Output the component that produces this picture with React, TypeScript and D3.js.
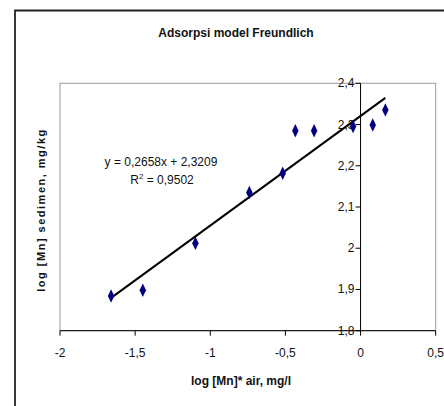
import React from "react";
import * as d3 from "d3";

const xValues = [-1.66, -1.449, -1.099, -0.74, -0.518, -0.434, -0.309, -0.05, 0.081, 0.165];
const yValues = [1.884, 1.898, 2.012, 2.135, 2.182, 2.285, 2.285, 2.295, 2.299, 2.335];
const xTicks = [-2, -1.5, -1, -0.5, 0, 0.5];
const yTicks = [1.8, 1.9, 2.0, 2.1, 2.2, 2.3, 2.4];
const slope = 0.2658;
const intercept = 2.3209;
const title = "Adsorpsi model Freundlich";
const xTitle = "log [Mn]* air, mg/l";
const yTitle = "log [Mn] sedimen, mg/kg";
const eqText = "y = 0,2658x + 2,3209";

const fmt = (v: number) => {
  const s = d3.format("~g")(Math.round(v * 10) / 10);
  return s.replace(".", ",").replace("−", "-");
};

export default function App() {
  const W = 444, H = 406;
  const L = 60, R = 435.7, T = 83.3, B = 330.7;
  const x = d3.scaleLinear().domain([-2, 0.5]).range([L, R]);
  const y = d3.scaleLinear().domain([1.8, 2.4]).range([B, T]);
  const font = "'Liberation Sans Narrow', 'Arial Narrow', 'Liberation Sans', Arial, sans-serif";
  const x0 = x(0);
  const xmin = d3.min(xValues)!;
  const xmax = d3.max(xValues)!;
  const diamond = d3.symbol().type(d3.symbolDiamond).size(40);
  return (
    <svg width={W} height={H} style={{ position: "absolute", left: 0, top: 0 }} fontFamily={font}>
      <rect x={0} y={0} width={W} height={H} fill="#fff" />
      {/* outer frame */}
      <path d={`M15,${H + 5} L15,10.5 L${W + 5},10.5`} fill="none" stroke="#222" strokeWidth={1.8} />
      <text x={236} y={37} textAnchor="middle" fontSize={12} fontWeight="bold" fill="#111">{title}</text>
      {/* plot area */}
      <rect x={L} y={T} width={R - L} height={B - T} fill="#fff" stroke="#999" strokeWidth={1} />
      {/* x axis */}
      <line x1={L} x2={R} y1={B} y2={B} stroke="#000" strokeWidth={1} />
      {xTicks.map((t) => (
        <g key={t}>
          <line x1={x(t)} x2={x(t)} y1={B} y2={B + 5} stroke="#000" />
          <text x={x(t)} y={B + 26} textAnchor="middle" fontSize={12} fill="#111">{fmt(t)}</text>
        </g>
      ))}
      {/* y axis at x=0 */}
      <line x1={x0} x2={x0} y1={T} y2={B} stroke="#000" strokeWidth={1} />
      {yTicks.map((t) => (
        <g key={t}>
          <line x1={x0 - 5} x2={x0} y1={y(t)} y2={y(t)} stroke="#000" />
          <text x={x0 - 6} y={y(t) + 4} textAnchor="end" fontSize={12} fill="#111">{fmt(t)}</text>
        </g>
      ))}
      {/* trendline */}
      <line x1={x(xmin)} y1={y(slope * xmin + intercept)} x2={x(xmax)} y2={y(slope * xmax + intercept)} stroke="#000" strokeWidth={2} />
      {xValues.map((v, i) => (
        <path key={i} d={diamond()!} transform={`translate(${x(v)},${y(yValues[i])}) scale(0.95,1.15)`} fill="#000080" />
      ))}
      <text x={161} y={166} textAnchor="middle" fontSize={12} fill="#111">{eqText}</text>
      <text x={162} y={184} textAnchor="middle" fontSize={12} fill="#111">
        R<tspan fontSize={8} dy={-5}>2</tspan><tspan dy={5}> = 0,9502</tspan>
      </text>
      <text x={241} y={385} textAnchor="middle" fontSize={12} fontWeight="bold" fill="#111">{xTitle}</text>
      <text transform={`translate(45,210) rotate(-90)`} textAnchor="middle" fontSize={11} fontWeight="bold" letterSpacing={1.5} fill="#111">{yTitle}</text>
    </svg>
  );
}
